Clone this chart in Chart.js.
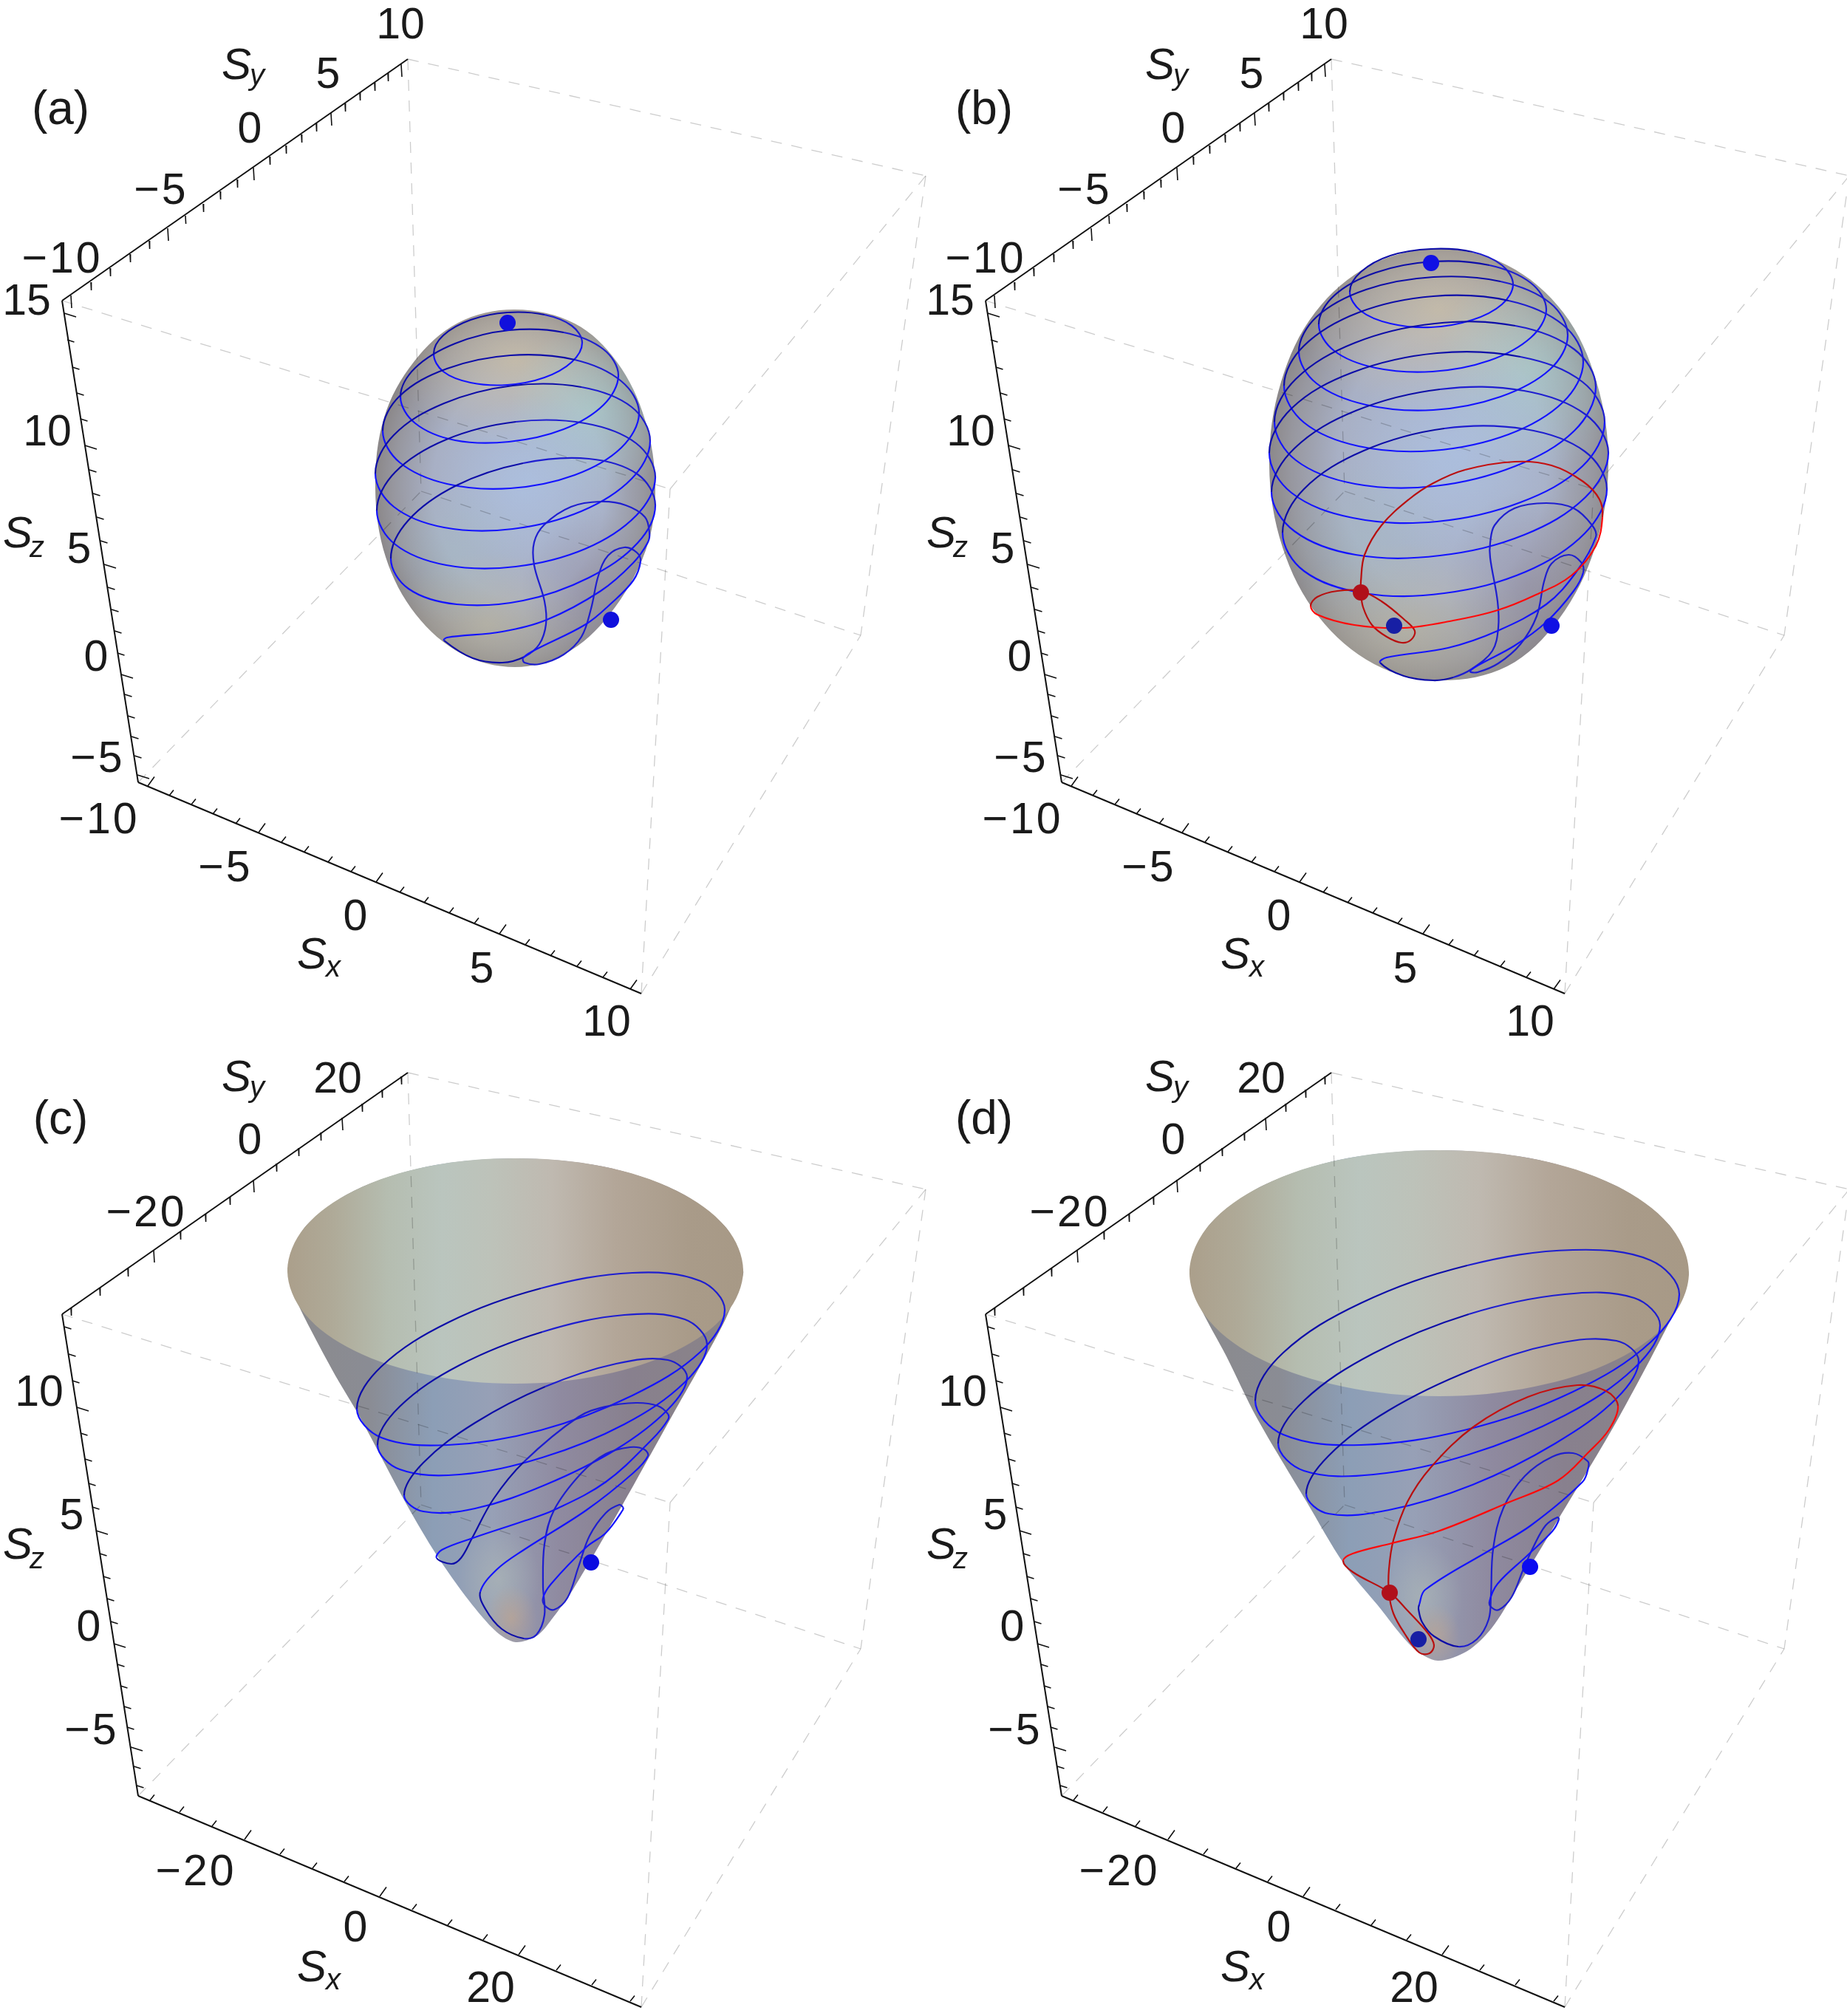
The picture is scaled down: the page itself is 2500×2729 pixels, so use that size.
<!DOCTYPE html>
<html>
<head>
<meta charset="utf-8">
<title>Spin trajectories</title>
<script src="https://cdn.jsdelivr.net/npm/chart.js@4"></script>
<style>
  html, body { margin: 0; padding: 0; background: #fff; overflow: hidden; width: 2500px; height: 2729px; }
  canvas { position: absolute; }
</style>
</head>
<body>
<canvas id="a"></canvas>
<canvas id="b"></canvas>
<canvas id="c"></canvas>
<canvas id="d"></canvas>
<script>
// all positions are in panel units
const sphereTicksY = [-10,-9,-8,-7,-6,-5,-4,-3,-2,-1,0,1,2,3,4,5,6,7,8,9,10]
const sphereTicksYPos = [[96,400],[123,382],[149,363],[176,344],[202,326],[227,309],[251,292],[275,276],[298,259],[321,243],[343,227],[365,212],[387,197],[408,182],[428,167],[448,153],[467,140],[487,125],[507,112],[525,99],[543,87]]
const sphereTicksZ = [15,14,13,12,11,10,9,8,7,6,5,4,3,2,1,0,-1,-2,-3,-4,-5]
const sphereTicksZPos = [[87,424],[91,460],[98,497],[104,532],[109,567],[115,603],[121,636],[126,668],[131,700],[136,732],[141,764],[146,795],[151,825],[155,854],[159,884],[164,913],[169,940],[173,969],[178,997],[182,1023],[186,1049]]
const sphereTicksX = [-10,-9,-8,-7,-6,-5,-4,-3,-2,-1,0,1,2,3,4,5,6,7,8,9,10]
const sphereTicksXPos = [[200,1064],[229,1077],[259,1089],[288,1102],[319,1115],[350,1127],[381,1140],[412,1153],[444,1167],[475,1180],[509,1194],[541,1208],[574,1222],[608,1236],[642,1250],[676,1264],[711,1279],[745,1294],[781,1308],[816,1323],[853,1339]]

const coneTicksY = [-35,-30,-25,-20,-15,-10,-5,0,5,10,15,20,25,30,35]
const coneTicksYPos = [[96,398],[135,371],[173,345],[208,320],[244,295],[278,271],[311,248],[343,225],[374,203],[404,182],[434,161],[463,141],[490,122],[517,103],[543,85]]
const coneTicksZ = [13,12,11,10,9,8,7,6,5,4,3,2,1,0,-1,-2,-3,-4,-5,-6,-7]
const coneTicksZPos = [[87,424],[93,461],[98,497],[104,533],[109,568],[115,603],[120,636],[125,668],[130,700],[135,731],[140,762],[145,792],[150,823],[154,853],[159,881],[163,910],[168,938],[172,966],[177,993],[181,1019],[185,1045]]
const coneTicksX = [-35,-30,-25,-20,-15,-10,-5,0,5,10,15,20,25,30,35]
const coneTicksXPos = [[203,1065],[243,1081],[287,1100],[331,1118],[379,1138],[423,1157],[466,1175],[514,1195],[558,1213],[606,1234],[654,1254],[702,1274],[753,1295],[801,1315],[853,1337]]

const axisY = [[84,407],[552,80]]
const axisZ = [[84,407],[187,1059]]
const axisX = [[187,1059],[868,1345]]
const boxEdges = [
  [[84,407],[907,662]], [[552,80],[1253,238]], [[552,80],[570,665]],
  [[187,1059],[570,665]], [[570,665],[1165,860]], [[868,1345],[1165,860]],
  [[868,1345],[907,662]], [[907,662],[1253,238]], [[1253,238],[1165,860]]
]

const sphereLabels = [
  ['10',542,34],['5',444,101],['0',338,175],['−5',218,258],['−10',84,351],
  ['15',36,408],['10',64,585],['5',107,744],['0',130,890],['−5',132,1027],
  ['−10',134,1110],['−5',305,1175],['0',481,1241],['5',652,1312],['10',821,1384]
]
const coneLabels = [
  ['20',457,89],['0',338,172],['−20',198,270],
  ['10',53,513],['5',97,680],['0',120,831],['−5',124,971],
  ['−20',265,1162],['0',481,1238],['20',664,1320]
]
const axisNames = [['S','y',300,107,338,115],['S','z',4,741,40,754],['S','x',402,1311,441,1322]]

// panel (a)
const outlineA = [[697,419],[778,438],[835,490],[873,568],[887,661],[874,745],[825,832],[765,885],[697,903],[625,885],[563,832],[522,754],[508,661],[520,565],[560,490],[620,437],[697,419]]
const loopsA = [
  [[587,479],[600,454],[637,433],[687,423],[737,426],[774,441],[788,464],[774,490],[737,511],[687,521],[637,518],[600,503],[587,479]],
  [[542,537],[562,498],[616,465],[689,447],[763,450],[817,473],[837,508],[817,548],[763,581],[689,598],[616,596],[562,573],[542,537]],
  [[518,583],[541,536],[605,499],[691,481],[778,487],[841,516],[865,559],[841,606],[778,643],[691,661],[605,655],[541,626],[518,583]],
  [[508,641],[533,589],[601,546],[694,522],[787,524],[855,551],[880,597],[855,648],[787,692],[694,716],[601,714],[533,686],[508,641]],
  [[510,691],[535,639],[604,595],[698,571],[792,573],[861,600],[887,646],[861,698],[792,743],[698,767],[604,765],[535,737],[510,691]],
  [[529,756],[553,704],[618,657],[708,627],[797,621],[863,642],[887,684],[863,735],[797,782],[708,813],[618,818],[553,797],[529,756]],
  [[601,867],[640,891],[680,897],[710,889],[730,872],[739,845],[737,814],[723,765],[723,734],[737,710],[773,686],[813,679],[847,684],[873,700],[879,721],[877,734],[857,762],[813,800],[740,839],[680,855],[605,863],[601,867]],
  [[708,891],[710,897],[730,899],[763,886],[787,862],[800,824],[810,779],[823,752],[845,741],[862,748],[867,760],[857,786],[827,817],[793,845],[720,882],[708,891]]
]
const brightDotsA = [[687,437],[827,839]]

// panel (b)
const outlineB = [[697,337],[790,359],[866,423],[911,517],[927,629],[909,741],[860,838],[790,902],[697,921],[610,899],[535,835],[486,741],[468,629],[484,517],[530,423],[605,359],[697,337]]
const loopsB = [
  [[577,395],[592,368],[632,346],[687,337],[743,341],[783,359],[798,385],[783,412],[743,433],[687,443],[632,438],[592,421],[577,395]],
  [[535,439],[556,400],[612,369],[689,354],[766,359],[822,383],[843,419],[822,457],[766,488],[689,503],[612,498],[556,475],[535,439]],
  [[508,476],[532,429],[599,392],[690,375],[781,381],[848,410],[872,454],[848,500],[781,537],[690,555],[599,548],[532,519],[508,476]],
  [[488,522],[515,468],[589,423],[690,401],[792,407],[866,440],[893,490],[866,544],[792,588],[690,610],[589,604],[515,572],[488,522]],
  [[475,571],[504,513],[584,464],[692,438],[801,441],[881,473],[910,524],[881,583],[801,631],[692,658],[584,655],[504,623],[475,571]],
  [[468,613],[498,553],[581,504],[695,478],[808,483],[892,517],[922,571],[892,631],[808,680],[695,706],[581,701],[498,667],[468,613]],
  [[471,666],[502,607],[585,556],[699,527],[813,529],[896,561],[927,613],[896,673],[813,724],[699,752],[585,751],[502,719],[471,666]],
  [[486,721],[515,662],[596,610],[705,580],[815,581],[895,611],[925,662],[895,722],[815,774],[705,803],[596,803],[515,773],[486,721]],
  [[618,897],[650,915],[690,921],[717,917],[743,905],[770,881],[778,850],[777,814],[767,755],[767,735],[773,711],[800,688],[843,681],[880,688],[905,711],[910,727],[883,775],[843,818],[777,854],[710,877],[627,890],[618,897]],
  [[740,909],[750,910],[778,898],[808,872],[830,834],[840,787],[850,763],[873,751],[890,761],[893,775],[880,800],[843,842],[800,874],[750,901],[740,909]]
]
const redB = [[524,820],[533,808],[560,800],[592,800],[620,814],[650,838],[665,854],[660,866],[647,870],[627,862],[607,846],[595,822],[592,802],[592,787],[597,751],[620,711],[657,676],[690,654],[733,636],[800,625],[850,630],[893,652],[915,676],[919,700],[910,739],[877,779],[827,806],[777,826],[717,840],[650,850],[583,846],[533,832],[524,820]]
const brightDotsB = [[687,356],[850,847]]
const darkDotsB = [[637,847]]
const redDotsB = [[592,802]]

// panel (c)
const rimC = [[389,348],[412,290],[479,240],[579,207],[697,196],[816,207],[916,240],[983,290],[1006,348],[983,406],[916,456],[816,489],[697,501],[579,489],[479,456],[412,406],[389,348]]
const sideC = [[389,348],[412,290],[479,240],[579,207],[697,196],[816,207],[916,240],[983,290],[1006,348],[1001,366],[979,420],[905,553],[842,666],[776,779],[746,821],[727,842],[698,851],[672,837],[635,795],[591,733],[550,664],[487,546],[450,483],[399,384],[389,348]]
const loopsC = [
  [[483,535],[516,478],[607,418],[732,372],[856,351],[948,362],[981,401],[948,458],[856,517],[732,564],[607,584],[516,574],[483,535]],
  [[511,584],[541,532],[622,476],[734,431],[845,408],[927,414],[957,448],[927,499],[845,556],[734,601],[622,624],[541,617],[511,584]],
  [[547,652],[573,608],[643,554],[738,505],[834,474],[904,469],[930,492],[904,536],[834,590],[738,638],[643,670],[573,674],[547,652]],
  [[591,737],[611,745],[624,737],[639,710],[668,657],[709,607],[783,546],[820,532],[861,527],[890,531],[904,542],[904,550],[883,576],[820,634],[750,672],[709,687],[640,710],[598,726],[591,737]],
  [[650,783],[657,806],[679,833],[709,846],[726,841],[737,814],[735,775],[737,718],[750,672],[787,622],[820,596],[853,587],[872,590],[877,599],[857,622],[794,672],[709,726],[672,753],[650,783]],
  [[735,791],[738,802],[750,807],[768,791],[783,749],[798,707],[820,676],[838,665],[843,668],[843,672],[820,703],[794,722],[746,772],[735,791]]
]
const brightDotsC = [[800,743]]

// panel (d)
const rimD = [[360,351],[386,287],[459,233],[568,197],[698,185],[827,197],[937,233],[1010,287],[1036,351],[1010,415],[937,469],[827,505],[698,518],[568,505],[459,469],[386,415],[360,351]]
const sideD = [[360,351],[386,287],[459,233],[568,197],[698,185],[827,197],[937,233],[1010,287],[1036,351],[1034,358],[1022,393],[941,547],[859,685],[802,780],[769,832],[736,863],[696,876],[663,859],[614,800],[569,745],[518,660],[451,547],[410,464],[372,392],[360,351]]
const loopsD = [
  [[449,524],[487,459],[592,392],[736,341],[879,320],[984,334],[1023,380],[984,445],[879,512],[736,563],[592,584],[487,570],[449,524]],
  [[480,582],[515,524],[609,460],[738,407],[868,380],[962,385],[997,422],[962,480],[868,544],[738,597],[609,624],[515,619],[480,582]],
  [[518,650],[548,599],[630,537],[743,482],[855,447],[938,443],[968,470],[938,521],[855,582],[743,638],[630,672],[548,677],[518,650]],
  [[671,800],[670,806],[675,824],[691,843],[724,857],[749,847],[765,820],[768,788],[771,725],[785,669],[814,626],[851,600],[879,595],[899,606],[900,614],[892,634],[822,693],[769,725],[679,780],[671,800]],
  [[766,796],[769,804],[779,807],[796,790],[812,752],[826,721],[842,693],[858,682],[860,685],[851,701],[818,733],[777,772],[766,796]]
]
const redD = [[568,741],[581,756],[631,784],[655,808],[683,839],[691,855],[685,866],[671,865],[651,839],[636,812],[630,784],[630,752],[636,713],[655,661],[687,614],[745,559],[818,519],[885,503],[924,511],[940,531],[928,563],[900,594],[859,632],[789,663],[696,701],[634,717],[581,731],[568,741]]
const brightDotsD = [[821,749]]
const darkDotsD = [[670,847]]
const redDotsD = [[631,784]]

const W = 1260

const toXY = (pts) => pts.map(p => ({ x: p[0], y: p[1] }))
// repeat a neighbour on each end so a closed loop has no kink where it starts
const wrap = (pts) => [pts[pts.length - 2], ...pts, pts[1]]

const tickSegments = (pos, values, step, major, minor) => {
  let out = []
  pos.forEach((p, i) => {
    let d = values[i] % step === 0 ? major : minor
    out.push({ x: p[0], y: p[1] }, { x: p[0] + d[0], y: p[1] + d[1] }, { x: NaN, y: NaN })
  })
  return out
}

// soft shading painted on a spare canvas and handed to chart.js as a fill pattern
const paintShade = (h, layers) => {
  let c = document.createElement('canvas')
  c.width = W
  c.height = h
  let g = c.getContext('2d')
  layers.forEach(l => {
    g.save()
    if (l.lin) {
      let lg = g.createLinearGradient(l.lin[0], 0, l.lin[1], 0)
      l.stops.forEach(s => lg.addColorStop(s[0], s[1]))
      g.fillStyle = lg
      g.fillRect(0, 0, W, h)
    } else {
      let rg = g.createRadialGradient(0, 0, 0, 0, 0, 1)
      l.stops.forEach(s => rg.addColorStop(s[0], s[1]))
      g.translate(l.c[0], l.c[1])
      g.scale(l.r[0], l.r[1])
      g.fillStyle = rg
      g.fillRect(-1, -1, 2, 2)
    }
    g.restore()
  })
  return g.createPattern(c, 'no-repeat')
}

const blob = (x, y, rx, ry, rgb, a) => ({ c: [x, y], r: [rx, ry], stops: [[0, `rgba(${rgb},${a})`], [1, `rgba(${rgb},0)`]] })

const sphereShade = (h, x0, x1, y0, y1) => {
  let w = x1 - x0, t = y1 - y0
  let at = (u, v, ru, rv, rgb, a) => blob(x0 + u * w, y0 + v * t, ru * w, rv * t, rgb, a)
  return paintShade(h, [
    { c: [(x0 + x1) / 2 + 5, (y0 + y1) / 2], r: [w * 0.56, t * 0.56], stops: [[0, '#acb9d3'], [0.55, '#a8b0c5'], [0.8, '#97979f'], [1, '#837d7a']] },
    at(0.5, 0.14, 0.42, 0.24, '205,192,165', 0.75),
    at(0.78, 0.28, 0.3, 0.24, '172,215,208', 0.55),
    at(0.56, 0.48, 0.34, 0.24, '172,194,228', 0.6),
    at(0.4, 0.88, 0.36, 0.2, '192,186,160', 0.6),
    at(0.28, 0.68, 0.26, 0.2, '165,192,195', 0.35),
    at(0.76, 0.78, 0.24, 0.22, '140,130,152', 0.4)
  ])
}

const coneShade = (h, x0, x1, tip) => paintShade(h, [
  { lin: [x0, x1], stops: [[0, '#8b8a8c'], [0.18, '#8a8c94'], [0.32, '#8c9eb6'], [0.45, '#97a0b6'], [0.6, '#8f8aa0'], [0.75, '#88808e'], [1, '#8a8486']] },
  blob(tip[0] - 22, tip[1] - 85, 55, 75, '170,180,182', 0.75),
  blob(tip[0] - 5, tip[1] - 32, 35, 45, '190,165,145', 0.7)
])

const rimShade = (h, x0, x1) => paintShade(h, [
  { lin: [x0, x1], stops: [[0, '#ab9f8b'], [0.1, '#afaa98'], [0.22, '#b5bdb0'], [0.34, '#bac5be'], [0.45, '#bdc2b9'], [0.58, '#bfb9b0'], [0.72, '#b3a698'], [0.88, '#a99b89'], [1, '#a79986']] }
])

const curveSet = (closedPts, cx, backDark, backLight, front) => {
  let pts = wrap(closedPts)
  let maxAt = 0
  pts.forEach((p, i) => { if (p[0] > pts[maxAt][0]) maxAt = i })
  let last = pts.length - 2
  return {
    data: toXY(pts), showLine: true, fill: false, tension: 0.36, borderWidth: 2.2, borderColor: front, pointRadius: 0,
    segment: {
      borderColor: s => {
        let i = s.p0DataIndex
        // the two repeated end pieces only steer the spline, they stay unseen
        if (i === 0 || i === last) return 'rgba(0,0,0,0)'
        if (i >= maxAt) return front
        return s.p0.parsed.x < cx ? backDark : backLight
      }
    }
  }
}
const dots = (pts, color) => ({ data: toXY(pts), showLine: false, pointRadius: 11, pointBackgroundColor: color, pointBorderWidth: 0 })
const surface = (pts, fill, tension) => ({ data: toXY(pts), showLine: true, fill: 'shape', tension: tension, backgroundColor: fill, borderWidth: 0, pointRadius: 0 })

const labelPlugin = (letter, labels, nameYs) => ({
  id: 'panelText',
  afterDatasetsDraw(chart) {
    let g = chart.ctx, sx = chart.scales.x, sy = chart.scales.y
    g.save()
    g.fillStyle = '#1a1a1a'
    g.textAlign = 'center'
    g.textBaseline = 'middle'
    g.font = '59px "Liberation Sans"'
    labels.forEach(l => {
      g.letterSpacing = l[0][0] === '−' ? '3px' : '0px'
      g.fillText(l[0], sx.getPixelForValue(l[1]), sy.getPixelForValue(l[2]) + 2)
    })
    g.letterSpacing = '0px'
    g.font = '64px "Liberation Sans"'
    g.fillText(letter[0], sx.getPixelForValue(letter[1]), sy.getPixelForValue(letter[2]))
    g.textAlign = 'left'
    g.textBaseline = 'alphabetic'
    axisNames.forEach((n, i) => {
      g.font = 'italic 60px "Liberation Sans"'
      g.fillText(n[0], sx.getPixelForValue(n[2]), sy.getPixelForValue(nameYs[i]))
      g.font = 'italic 40px "Liberation Sans"'
      g.fillText(n[1], sx.getPixelForValue(n[4]), sy.getPixelForValue(nameYs[i] + n[5] - n[3]))
    })
    g.restore()
  }
})

const drawPanel = (id, left, top, h, surfaces, curves, marks, ticks, labels, letter, nameYs) => {
  let cv = document.getElementById(id)
  cv.width = W
  cv.height = h
  cv.style.left = left + 'px'
  cv.style.top = top + 'px'
  let sets = []
  surfaces.forEach(s => sets.push(s))
  boxEdges.forEach(e => sets.push({ data: toXY(e), showLine: true, borderColor: 'rgba(0,0,0,0.2)', borderWidth: 1.3, borderDash: [15, 13], pointRadius: 0, fill: false }))
  sets.push({ data: toXY(axisY), showLine: true, borderColor: '#111', borderWidth: 2, pointRadius: 0 })
  sets.push({ data: toXY(axisZ), showLine: true, borderColor: '#111', borderWidth: 2, pointRadius: 0 })
  sets.push({ data: toXY(axisX), showLine: true, borderColor: '#111', borderWidth: 2, pointRadius: 0 })
  ticks.forEach(t => sets.push({ data: t, showLine: true, borderColor: '#111', borderWidth: 1.6, pointRadius: 0 }))
  curves.forEach(s => sets.push(s))
  marks.forEach(s => sets.push(s))
  sets.forEach((s, i) => { s.order = sets.length - i })
  new Chart(cv, {
    type: 'scatter',
    data: { datasets: sets },
    options: {
      responsive: false, animation: false, events: [], devicePixelRatio: 1,
      layout: { padding: 0, autoPadding: false },
      scales: {
        x: { type: 'linear', display: false, min: 0, max: W },
        y: { type: 'linear', display: false, min: 0, max: h, reverse: true }
      },
      plugins: { legend: { display: false }, tooltip: { enabled: false } }
    },
    plugins: [labelPlugin(letter, labels, nameYs)]
  })
}

const blueSet = (pts) => curveSet(pts, 697, '#0d0da8', '#1e1ed0', '#1414ff')
const redSet = (pts) => curveSet(pts, 697, '#b80f0f', '#c41010', '#ff0a0a')

const sphereTicks = () => [
  tickSegments(sphereTicksYPos, sphereTicksY, 5, [1, 17], [0.6, 11]),
  tickSegments(sphereTicksZPos, sphereTicksZ, 5, [16, 5], [9.5, 3]),
  tickSegments(sphereTicksXPos, sphereTicksX, 5, [9, -12.5], [6, -7.5])
]
const coneTicks = () => [
  tickSegments(coneTicksYPos, coneTicksY, 20, [1, 17], [0.6, 11]),
  tickSegments(coneTicksZPos, coneTicksZ, 5, [16, 5], [9.5, 3]),
  tickSegments(coneTicksXPos, coneTicksX, 20, [9, -12.5], [6, -7.5])
]

const sphereH = 1420, coneH = 1357
const sphereNames = [107, 741, 1311]
const coneNames = [105, 738, 1310]

drawPanel('a', 0, 0, sphereH,
  [surface(wrap(outlineA), sphereShade(sphereH, 508, 887, 419, 903), 0.35)],
  loopsA.map(blueSet),
  [dots(brightDotsA, '#1010dc')],
  sphereTicks(), sphereLabels, ['(a)', 82, 150], sphereNames)

drawPanel('b', 1250, 0, sphereH,
  [surface(wrap(outlineB), sphereShade(sphereH, 468, 927, 337, 921), 0.35)],
  loopsB.map(blueSet).concat([redSet(redB)]),
  [dots(brightDotsB, '#1010e4'), dots(darkDotsB, '#171fa4'), dots(redDotsB, '#b0101a')],
  sphereTicks(), sphereLabels, ['(b)', 82, 150], sphereNames)

drawPanel('c', 0, 1372, coneH,
  [surface(sideC, coneShade(coneH, 389, 1006, [697, 851]), 0.3), surface(wrap(rimC), rimShade(coneH, 389, 1006), 0.35)],
  loopsC.map(blueSet),
  [dots(brightDotsC, '#0b0be0')],
  coneTicks(), coneLabels, ['(c)', 82, 145], coneNames)

drawPanel('d', 1250, 1372, coneH,
  [surface(sideD, coneShade(coneH, 360, 1036, [697, 876]), 0.3), surface(wrap(rimD), rimShade(coneH, 360, 1036), 0.35)],
  loopsD.map(blueSet).concat([redSet(redD)]),
  [dots(brightDotsD, '#0b0bf0'), dots(darkDotsD, '#171fa4'), dots(redDotsD, '#b0101a')],
  coneTicks(), coneLabels, ['(d)', 82, 145], coneNames)
</script>
</body>
</html>
